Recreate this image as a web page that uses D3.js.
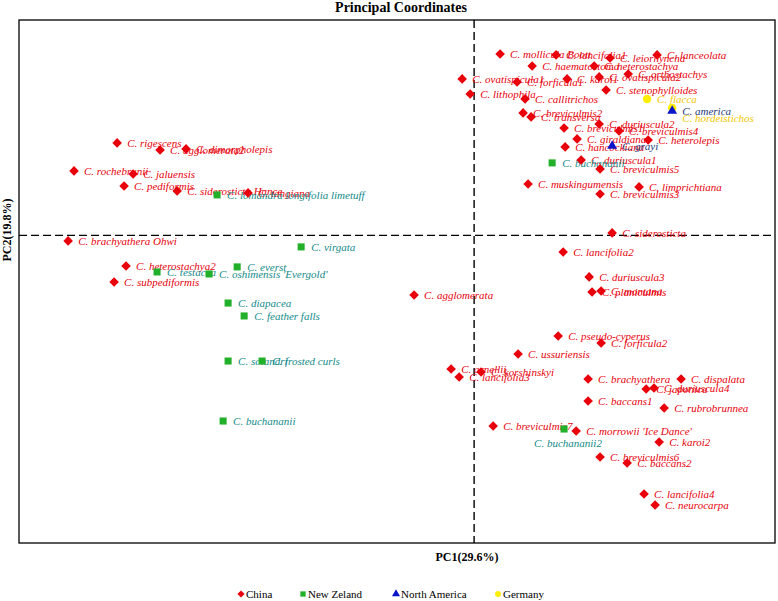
<!DOCTYPE html>
<html>
<head>
<meta charset="utf-8">
<script src="https://cdn.jsdelivr.net/npm/d3@7"></script>
<style>
  html, body { margin: 0; padding: 0; background: #fff; }
  svg { display: block; }
</style>
</head>
<body>
<svg id="chart" width="778" height="601"></svg>
<script>
// ---------- DATA ----------
const chinaNames = ["C. mollicula Boott","C. lancifolia1","C. leiorhyncha","C. lanceolata","C. haematostoma","C. heterostachya",
  "C. ovatispicula1","C. forficula1","C. karoi1","C. ovatispicula2","C. orthostachys","C. lithophila","C. stenophylloides",
  "C. callitrichos","C. breviculmis2","C. transversa","C. duriuscula2","C. breviculmis1","C. breviculmis4","C. giraldiana",
  "C. heterolepis","C. hancockiana","C. duriuscula1","C. breviculmis5","C. muskingumensis","C. limprichtiana","C. breviculmis3",
  "C. siderosticta","C. rigescens","C. agglomerata2","C. dimorpholepis","C. rochebrunii","C. jaluensis","C. pediformis",
  "C. siderosticta Hance","C. tangiana","C. brachyathera Ohwi","C. heterostachya2","C. subpediformis","C. agglomerata",
  "C. lancifolia2","C. duriuscula3","C. planiculmis","C. montana","C. pseudo-cyperus","C. forficula2","C. ussuriensis",
  "C. arnellii","C. korshinskyi","C. lancifolia3","C. brachyathera","C. dispalata","C. japonica","C. duriuscula4",
  "C. baccans1","C. rubrobrunnea","C. breviculmis7","C. morrowii 'Ice Dance'","C. karoi2","C. breviculmis6","C. baccans2",
  "C. lancifolia4","C. neurocarpa"];
const chinaPC1 = [0.0172,0.0542,0.0899,0.1210,0.0384,0.0794,
  -0.0079,0.0284,0.0615,0.0827,0.1019,-0.0026,0.0873,
  0.0337,0.0324,0.0377,0.0827,0.0595,0.0959,0.0681,
  0.1151,0.0602,0.0708,0.0833,0.0357,0.1091,0.0833,
  0.0913,-0.2361,-0.2077,-0.1905,-0.2646,-0.2255,-0.2315,
  -0.1964,-0.1495,-0.2685,-0.2302,-0.2381,-0.0397,
  0.0589,0.0761,0.0780,0.0840,0.0556,0.0840,0.0291,
  -0.0152,0.0046,-0.0099,0.0754,0.1369,0.1138,0.1190,
  0.0754,0.1257,0.0126,0.0675,0.1224,0.0833,0.1012,
  0.1124,0.1197];
const chinaPC2 = [0.1179,0.1173,0.1153,0.1173,0.1101,0.1101,
  0.1017,0.0997,0.1017,0.1030,0.1049,0.0919,0.0945,
  0.0887,0.0796,0.0770,0.0724,0.0698,0.0679,0.0627,
  0.0620,0.0575,0.0490,0.0432,0.0334,0.0315,0.0269,
  0.0016,0.0601,0.0555,0.0562,0.0419,0.0399,0.0321,
  0.0289,0.0276,-0.0036,-0.0199,-0.0303,-0.0388,
  -0.0108,-0.0270,-0.0368,-0.0362,-0.0654,-0.0700,-0.0771,
  -0.0869,-0.0888,-0.0921,-0.0934,-0.0934,-0.0999,-0.0992,
  -0.1077,-0.1122,-0.1239,-0.1272,-0.1343,-0.1441,-0.1480,
  -0.1681,-0.1753];

const nzNames = ["C. buchananii","C. lomandra longifolia limetuff","C. virgata","C. everst","C. testacea",
  "C. oshimensis 'Evergold'","C. diapacea","C. feather falls","C. solandri","C. frosted curls","C. buchananii","C. buchananii2"];
const nzPC1 = [0.0516,-0.1700,-0.1144,-0.1567,-0.2097,-0.1753,-0.1627,-0.1521,-0.1627,-0.1402,-0.1660,0.0595];
const nzPC2 = [0.0471,0.0263,-0.0075,-0.0205,-0.0238,-0.0251,-0.0440,-0.0524,-0.0817,-0.0817,-0.1207,-0.1259];

const naNames = ["C. america","C. grayi"];
const naPC1 = [0.1310,0.0913];
const naPC2 = [0.0809,0.0581];

const deNames = ["C. flacca","C. hordeistichos"];
const dePC1 = [0.1144,0.1310];
const dePC2 = [0.0887,0.0828];

const groupNames = ["China","New Zeland","North America","Germany"];
const titleText = "Principal Coordinates";
const xLabel = "PC1(29.6%)";
const yLabel = "PC2(19.8%)";

// ---------- STYLE ----------
const groupStyle = {
  "China":         {symbol: "diamond",  fill: "#e8000b", text: "#e8000b"},
  "New Zeland":    {symbol: "square",   fill: "#22b02a", text: "#138a8a"},
  "North America": {symbol: "triangle", fill: "#0a14c8", text: "#1c3a7c"},
  "Germany":       {symbol: "circle",   fill: "#ffee00", text: "#f5c800"}
};
// label offsets that differ from the default (right of the marker)
const labelShift = {
  "C. hordeistichos": {dx: 10, dy: 10},
  "C. buchananii2":   {dx: -30, dy: 14}
};

function build(names, xs, ys, group) {
  return names.map((n, i) => ({name: n, pc1: xs[i], pc2: ys[i], group}));
}
const points = [].concat(
  build(chinaNames, chinaPC1, chinaPC2, "China"),
  build(nzNames, nzPC1, nzPC2, "New Zeland"),
  build(deNames, dePC1, dePC2, "Germany"),
  build(naNames, naPC1, naPC2, "North America")
);

// ---------- LAYOUT ----------
const svg = d3.select("#chart");
const pL = 19, pR = 775, pT = 20, pB = 543;
const x = d3.scaleLinear().domain([-0.301, 0.199]).range([pL, pR]);
const y = d3.scaleLinear().domain([-0.2, 0.14]).range([pB, pT]);
const serif = "'Liberation Serif', 'Times New Roman', serif";

function symbolPath(kind, size) {
  if (kind === "diamond") {
    const h = Math.sqrt(size * 2) / 2;
    return `M0,${-h}L${h},0L0,${h}L${-h},0Z`;
  }
  const map = {square: d3.symbolSquare, triangle: d3.symbolTriangle, circle: d3.symbolCircle};
  return d3.symbol().type(map[kind]).size(size)();
}
const markerSize = {diamond: 46, square: 50, triangle: 42, circle: 56};

// title
svg.append("text").attr("x", 401).attr("y", 12).attr("text-anchor", "middle")
  .attr("font-family", serif).attr("font-weight", "bold").attr("font-size", 14)
  .text(titleText);

// frame
svg.append("rect").attr("x", pL).attr("y", pT).attr("width", pR - pL).attr("height", pB - pT)
  .attr("fill", "none").attr("stroke", "#000").attr("stroke-width", 1.3);

// zero lines
svg.append("line").attr("x1", x(0)).attr("x2", x(0)).attr("y1", pT).attr("y2", pB)
  .attr("stroke", "#000").attr("stroke-width", 1.4).attr("stroke-dasharray", "8,4");
svg.append("line").attr("x1", pL).attr("x2", pR).attr("y1", y(0)).attr("y2", y(0))
  .attr("stroke", "#000").attr("stroke-width", 1.4).attr("stroke-dasharray", "8,4");

// axis titles
svg.append("text").attr("x", 467).attr("y", 561).attr("text-anchor", "middle")
  .attr("font-family", serif).attr("font-weight", "bold").attr("font-size", 12)
  .text(xLabel);
svg.append("text").attr("transform", "translate(11,230) rotate(-90)").attr("text-anchor", "middle")
  .attr("font-family", serif).attr("font-weight", "bold").attr("font-size", 12)
  .text(yLabel);

// labels (drawn under markers)
svg.append("g").selectAll("text").data(points).join("text")
  .attr("x", d => x(d.pc1) + (labelShift[d.name] ? labelShift[d.name].dx : 10))
  .attr("y", d => y(d.pc2) + (labelShift[d.name] ? labelShift[d.name].dy : 0))
  .attr("dy", "0.35em")
  .attr("font-family", serif).attr("font-style", "italic").attr("font-size", 11)
  .attr("fill", d => groupStyle[d.group].text)
  .text(d => d.name);

// markers
svg.append("g").selectAll("path").data(points).join("path")
  .attr("transform", d => `translate(${x(d.pc1)},${y(d.pc2)})`)
  .attr("d", d => symbolPath(groupStyle[d.group].symbol, markerSize[groupStyle[d.group].symbol]))
  .attr("fill", d => groupStyle[d.group].fill);

// legend
const legendX = [241, 303, 396, 498];
const lg = svg.append("g");
groupNames.forEach((g, i) => {
  const s = groupStyle[g];
  lg.append("path").attr("transform", `translate(${legendX[i]},594)`)
    .attr("d", symbolPath(s.symbol, s.symbol === "diamond" ? 26 : 28))
    .attr("fill", s.fill);
  lg.append("text").attr("x", legendX[i] + 5).attr("y", 598)
    .attr("font-family", serif).attr("font-size", 11).attr("fill", "#000")
    .text(g);
});
</script>
</body>
</html>
